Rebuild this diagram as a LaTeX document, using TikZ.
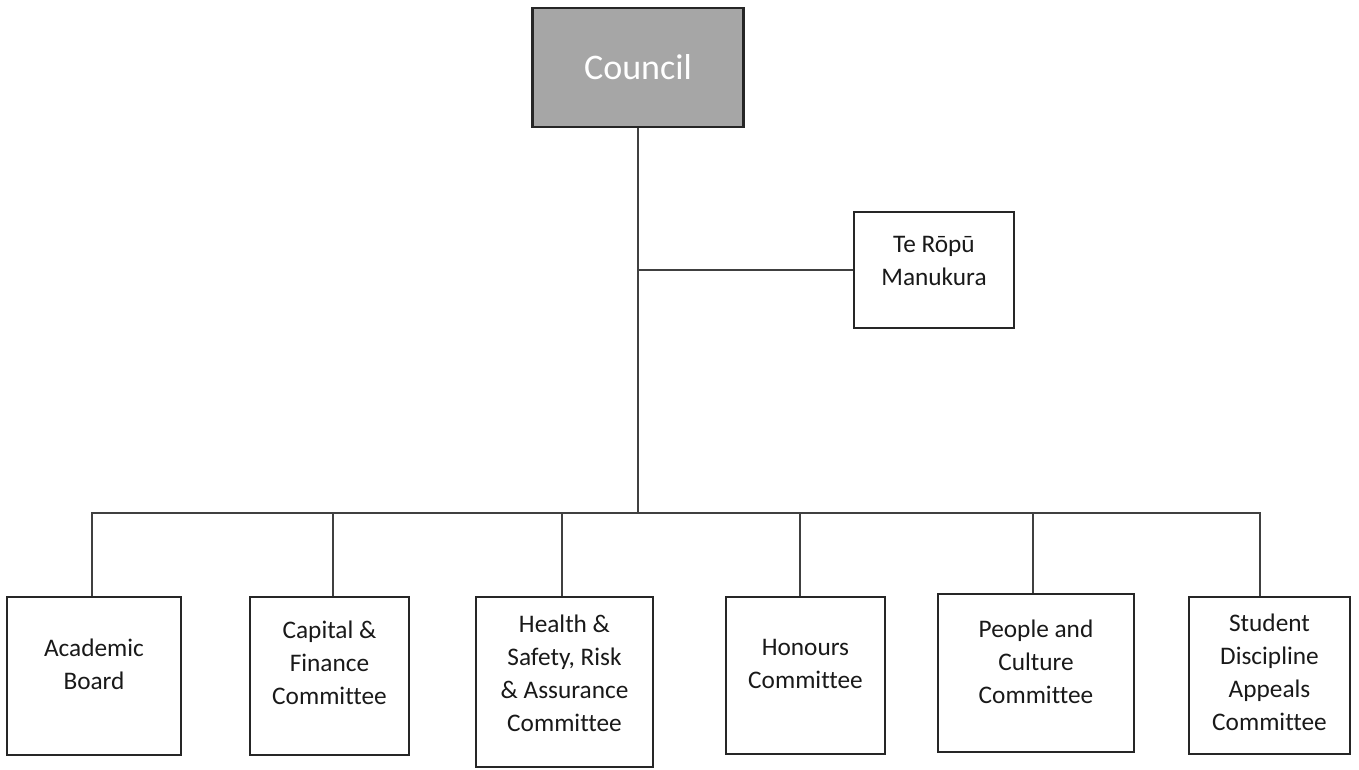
\documentclass[tikz,border=0pt]{standalone}
\usepackage{fontspec}
\setmainfont{Carlito}[Ligatures=NoCommon]
\begin{document}
\begin{tikzpicture}[x=1pt,y=-1pt,
  box/.style={draw=black!85,line width=2.4pt,inner sep=0pt,rectangle},
  lbl/.style={align=center,text=black!90,font=\fontsize{25.3}{33}\selectfont,inner sep=0pt},
  conn/.style={draw=black!75,line width=2.2pt}]
\useasboundingbox (0,0) rectangle (1359,769);
\node[box,fill=black!35,minimum width=211pt,minimum height=119pt,text=white,font=\fontsize{36}{40}\selectfont] (council) at (638,67.5) {Council};
\node[box,minimum width=160pt,minimum height=116pt] (te) at (934,270) {};
\node[lbl] (tet) at (934,261) {Te Rōpū\\Manukura};
\node[box,minimum width=174pt,minimum height=158pt] (acad) at (94,676) {};
\node[box,minimum width=159pt,minimum height=158pt] (cap) at (329.5,676) {};
\node[box,minimum width=177pt,minimum height=170pt] (hsr) at (564.5,682) {};
\node[box,minimum width=159pt,minimum height=157pt] (hon) at (805.5,675.5) {};
\node[box,minimum width=196pt,minimum height=158pt] (pc) at (1036,673) {};
\node[box,minimum width=161pt,minimum height=157pt] (sd) at (1269.5,675.5) {};
\node[lbl] (acadt) at (94,664) {Academic\\Board};
\node[lbl] (capt) at (329.5,663) {Capital \&\\Finance\\Committee};
\node[lbl] (hsrt) at (564.5,673) {Health \&\\Safety, Risk\\\& Assurance\\Committee};
\node[lbl] (hont) at (805.5,664) {Honours\\Committee};
\node[lbl] (pct) at (1036,662) {People and\\Culture\\Committee};
\node[lbl] (sdt) at (1269.5,672) {Student\\Discipline\\Appeals\\Committee};
\coordinate (bus) at (638,513);
\draw[conn] (council.south) -- (bus);
\draw[conn] (council.south |- te.west) -- (te.west);
\draw[conn] ([xshift=-2pt]acad.north) -- ([xshift=-2pt]acad.north |- bus) -- ([xshift=-9.5pt]sd.north |- bus) -- ([xshift=-9.5pt]sd.north);
\draw[conn] ([xshift=3.5pt]cap.north) -- ([xshift=3.5pt]cap.north |- bus);
\draw[conn] ([xshift=-2.5pt]hsr.north) -- ([xshift=-2.5pt]hsr.north |- bus);
\draw[conn] ([xshift=-5.5pt]hon.north) -- ([xshift=-5.5pt]hon.north |- bus);
\draw[conn] ([xshift=-3pt]pc.north) -- ([xshift=-3pt]pc.north |- bus);
\end{tikzpicture}
\end{document}
